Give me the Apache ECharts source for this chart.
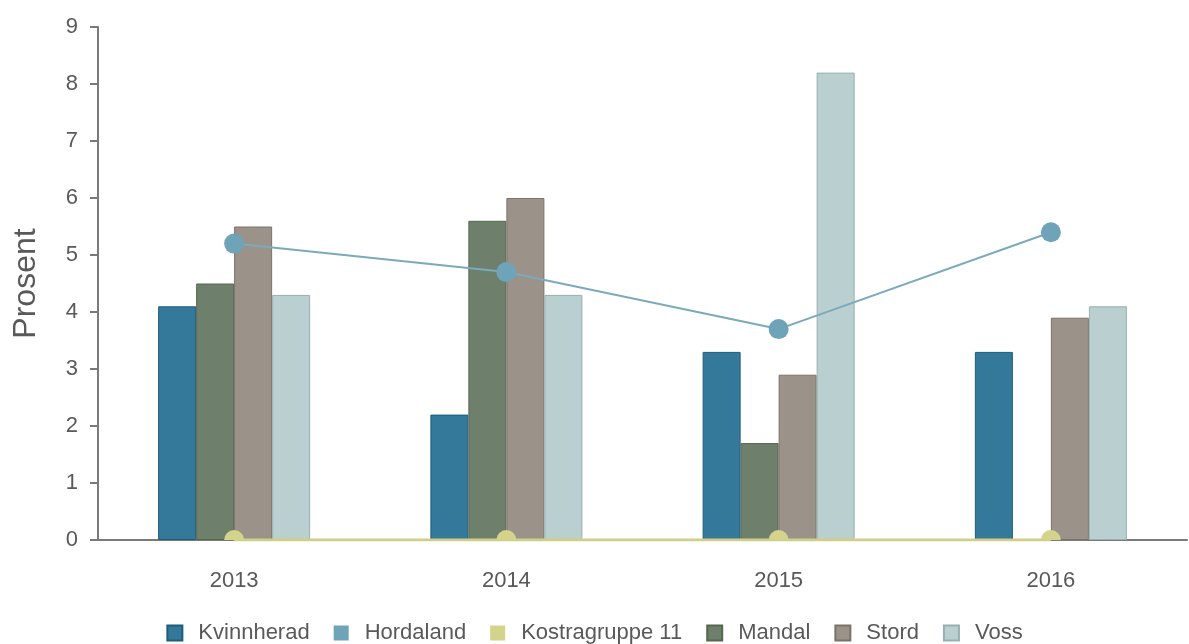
<!DOCTYPE html>
<html lang="no">
<head>
    <meta charset="UTF-8">
    <title>Prosent</title>
    <script src="https://cdn.jsdelivr.net/npm/echarts@6/dist/echarts.min.js"></script>
    <style>
        html, body { margin: 0; padding: 0; background: #fff; }
    </style>
</head>
<body>
<div id="main" style="width: 1189px;height:644px;"></div>
<script type="text/javascript">
    var years = ['2013', '2014', '2015', '2016'];
    var kvinnherad = [4.1, 2.2, 3.3, 3.3];
    var hordaland = [5.2, 4.7, 3.7, 5.4];
    var kostragruppe = [0, 0, 0, 0];
    var mandal = [4.5, 5.6, 1.7, '-'];
    var stord = [5.5, 6.0, 2.9, 3.9];
    var voss = [4.3, 4.3, 8.2, 4.1];

    var myChart = echarts.init(document.getElementById('main'));
    var textColor = '#595959';

    function bar(name, data, color, border) {
        return {
            name: name,
            type: 'bar',
            barWidth: 38,
            barGap: '0%',
            itemStyle: { color: color, borderColor: border, borderWidth: 1 },
            data: data
        };
    }

    var option = {
        animation: false,
        textStyle: { fontFamily: 'Liberation Sans, Arial, sans-serif' },
        grid: { left: 98, right: 2, top: 27, bottom: 104 },
        legend: {
            top: 622,
            left: 'center',
            padding: 0,
            icon: 'rect',
            itemWidth: 15,
            itemHeight: 15,
            itemGap: 24,
            textStyle: { color: textColor, fontSize: 22, padding: [0, 0, 0, 11] },
            data: ['Kvinnherad', 'Hordaland', 'Kostragruppe 11', 'Mandal', 'Stord', 'Voss']
        },
        xAxis: {
            type: 'category',
            data: years,
            axisLine: { lineStyle: { color: '#7a7a7a', width: 2 } },
            axisTick: { lineStyle: { color: '#7a7a7a', width: 2 }, length: 6 },
            axisLabel: { color: textColor, fontSize: 22, margin: 30 }
        },
        yAxis: {
            type: 'value',
            min: 0,
            max: 9,
            interval: 1,
            name: 'Prosent',
            nameLocation: 'middle',
            nameGap: 56,
            nameTextStyle: { color: textColor, fontSize: 32 },
            axisLine: { show: true, lineStyle: { color: '#7a7a7a', width: 2 } },
            axisTick: { show: true, lineStyle: { color: '#7a7a7a', width: 2 }, length: 8 },
            axisLabel: { color: textColor, fontSize: 22, margin: 20 },
            splitLine: { show: false }
        },
        series: [
            bar('Kvinnherad', kvinnherad, '#35799a', '#1d5d7c'),
            {
                name: 'Hordaland',
                type: 'line',
                z: 5,
                symbol: 'circle',
                symbolSize: 20,
                itemStyle: { color: '#6fa3b7' },
                lineStyle: { color: '#7aaabb', width: 2 },
                data: hordaland
            },
            {
                name: 'Kostragruppe 11',
                type: 'line',
                z: 4,
                // half disc: the lower half sits below the axis and is hidden
                symbol: 'path://M0,10 A10,10 0 0,1 20,10 Z',
                symbolSize: [20, 10],
                symbolOffset: [0, -5],
                itemStyle: { color: '#d3d38b' },
                lineStyle: { color: '#cfcf8a', width: 3 },
                data: kostragruppe
            },
            bar('Mandal', mandal, '#6e806c', '#56664f'),
            bar('Stord', stord, '#9b9289', '#7b7269'),
            bar('Voss', voss, '#bacfcf', '#98b0b0')
        ]
    };

    myChart.setOption(option);
</script>
</body>
</html>
